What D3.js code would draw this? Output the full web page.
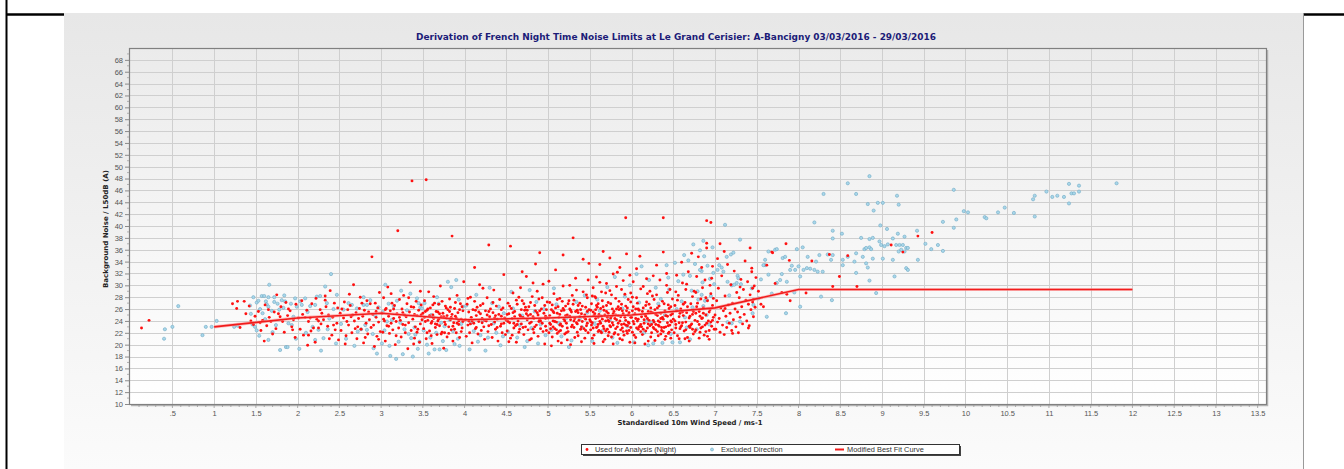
<!DOCTYPE html>
<html>
<head>
<meta charset="utf-8">
<script src="https://cdn.jsdelivr.net/npm/d3@7/dist/d3.min.js"></script>
<style>
  html, body { margin: 0; padding: 0; background: #ffffff; }
  svg { display: block; }
</style>
</head>
<body>
<svg id="chart" width="1344" height="469"></svg>
<script>
// ---- Data -------------------------------------------------------------
const chartTitle = "Derivation of French Night Time Noise Limits at Le Grand Cerisier: A-Bancigny 03/03/2016 - 29/03/2016";
const xAxisTitle = "Standardised 10m Wind Speed / ms-1";
const yAxisTitle = "Background Noise / L50dB (A)";
const legendLabels = ["Used for Analysis (Night)", "Excluded Direction", "Modified Best Fit Curve"];

const xTicks = [0.5,1,1.5,2,2.5,3,3.5,4,4.5,5,5.5,6,6.5,7,7.5,8,8.5,9,9.5,10,10.5,11,11.5,12,12.5,13,13.5];
const yTicks = [10,12,14,16,18,20,22,24,26,28,30,32,34,36,38,40,42,44,46,48,50,52,54,56,58,60,62,64,66,68];

// Modified best fit curve (wind speed, L50 noise)
const curveWind  = [1, 2, 3, 4, 5, 6, 7, 8, 12];
const curveNoise = [23.0, 24.5, 25.3, 24.2, 24.5, 25.0, 26.2, 29.3, 29.3];

// Night-time samples used for the analysis [wind speed, L50]
const usedPoints = [
[0.13,22.8],[0.22,24.1],
[1.22,26.9],[1.28,27.3],[1.36,27.3],[1.27,26.1],[1.31,22.9],[1.38,25.2],[1.44,24.0],[1.47,23.4],[1.49,24.8],[1.42,26.5],
[1.53,25.6],[1.56,22.4],[1.58,24.1],[1.61,26.7],[1.63,23.2],[1.66,24.6],[1.68,23.9],[1.70,21.8],[1.72,25.5],[1.74,22.7],[1.77,25.2],[1.79,24.7],[1.80,26.4],[1.82,23.9],[1.84,22.1],[1.86,27.1],[1.89,26.0],[1.91,25.7],[1.93,23.0],[1.95,24.2],[1.97,21.2],[1.98,26.8],[1.60,20.6],[1.75,28.4],[1.88,24.9],[1.55,23.7],[1.65,25.9],[1.94,22.5],
[2.01,24.5],[2.03,22.6],[2.05,27.4],[2.07,21.6],[2.09,24.6],[2.11,25.8],[2.13,23.9],[2.13,21.6],[2.15,24.5],[2.17,26.9],[2.19,22.8],[2.21,20.4],[2.23,24.3],[2.25,24.0],[2.25,22.8],[2.27,25.9],[2.29,25.3],[2.31,24.2],[2.33,28.2],[2.33,27.5],[2.34,26.4],[2.36,23.1],[2.38,21.0],[2.39,29.1],[2.41,21.6],[2.43,23.3],[2.45,22.5],[2.47,23.6],[2.48,26.2],[2.49,20.8],[2.06,25.1],[2.16,22.3],[2.22,27.8],[2.28,23.5],[2.37,25.0],[2.42,24.6],[2.44,27.0],[2.12,19.9],
[2.51,25.3],[2.52,22.4],[2.55,24.5],[2.56,27.2],[2.58,21.5],[2.60,25.9],[2.61,23.3],[2.63,26.6],[2.65,22.0],[2.67,30.1],[2.68,24.0],[2.70,25.4],[2.71,21.0],[2.72,23.0],[2.74,26.1],[2.75,28.0],[2.76,22.6],[2.78,24.8],[2.79,20.3],[2.80,25.8],[2.82,23.6],[2.83,27.4],[2.84,21.8],[2.86,24.2],[2.87,26.9],[2.88,22.9],[2.89,34.8],[2.90,25.1],[2.91,23.3],[2.92,19.7],[2.93,27.0],[2.94,24.6],[2.95,21.4],[2.96,26.2],[2.97,23.8],[2.98,28.8],[2.99,22.2],[2.53,26.0],[2.57,20.1],[2.62,28.5],[2.66,25.0],[2.69,22.7],[2.73,24.4],[2.77,27.0],[2.81,21.2],[2.85,25.5],[2.59,23.9],[2.64,24.7],[2.94,25.6],[2.97,20.9],
[3.01,25.3],[3.02,22.1],[3.03,27.9],[3.04,24.0],[3.05,20.6],[3.06,26.1],[3.07,23.2],[3.08,29.7],[3.09,24.8],[3.10,21.9],[3.11,25.7],[3.12,23.6],[3.13,27.0],[3.14,22.5],[3.15,24.4],[3.16,26.6],[3.17,20.0],[3.18,23.9],[3.19,25.2],[3.20,39.2],[3.21,22.8],[3.22,27.6],[3.23,24.1],[3.24,21.3],[3.25,26.0],[3.26,23.4],[3.27,28.3],[3.28,25.0],[3.29,22.0],[3.30,24.7],[3.31,26.9],[3.32,19.3],[3.33,23.7],[3.34,25.5],[3.35,30.5],[3.36,22.4],[3.37,47.6],[3.38,24.3],[3.39,26.3],[3.40,21.1],[3.41,23.0],[3.42,27.3],[3.43,24.9],[3.44,22.6],[3.45,25.8],[3.46,20.4],[3.47,23.5],[3.48,26.7],[3.49,24.2],[3.05,25.9],[3.12,28.6],[3.18,21.5],[3.26,25.4],[3.33,27.9],[3.40,25.1],[3.47,29.0],[3.09,23.1],[3.15,26.0],[3.22,24.6],[3.29,23.3],[3.36,26.4],[3.43,22.1],[3.48,25.0],[3.03,24.3],[3.39,20.1],
[3.50,25.3],[3.51,22.7],[3.52,27.4],[3.53,23.9],[3.54,47.8],[3.54,21.0],[3.55,25.8],[3.56,24.1],[3.57,28.9],[3.58,22.3],[3.59,26.2],[3.60,23.6],[3.61,20.2],[3.62,25.0],[3.63,24.4],[3.64,27.0],[3.65,22.9],[3.66,25.6],[3.67,21.7],[3.68,24.0],[3.69,26.8],[3.70,23.2],[3.71,29.9],[3.72,24.7],[3.73,22.1],[3.74,25.3],[3.75,19.4],[3.76,23.8],[3.77,26.5],[3.78,24.5],[3.79,21.3],[3.80,25.9],[3.81,23.0],[3.82,27.7],[3.83,24.2],[3.84,22.5],[3.85,38.3],[3.85,25.1],[3.86,20.6],[3.87,23.7],[3.88,26.1],[3.89,24.8],[3.90,22.0],[3.91,28.3],[3.92,25.4],[3.93,23.4],[3.94,21.2],[3.95,26.9],[3.96,24.3],[3.97,22.8],[3.98,25.7],[3.99,30.6],[3.52,24.6],[3.56,26.0],[3.60,21.5],[3.63,28.1],[3.67,23.4],[3.70,25.2],[3.73,27.3],[3.76,22.0],[3.79,24.9],[3.82,25.6],[3.86,23.1],[3.89,27.1],[3.93,24.0],[3.97,26.4],[3.58,24.9],[3.65,23.5],[3.72,21.8],[3.78,26.2],[3.84,24.6],[3.91,23.6],[3.96,22.2],[3.55,22.0],[3.69,24.3],[3.81,21.9],[3.88,22.6],[3.94,25.9],[3.62,26.7],[3.75,24.7],
[4.01,24.2],[4.02,21.4],[4.03,26.8],[4.04,23.3],[4.05,25.5],[4.06,22.0],[4.07,28.0],[4.08,24.6],[4.09,20.3],[4.10,25.9],[4.11,23.6],[4.12,27.3],[4.13,22.7],[4.14,24.9],[4.15,26.3],[4.16,21.8],[4.17,23.9],[4.18,30.1],[4.19,25.2],[4.20,22.4],[4.21,24.4],[4.22,26.9],[4.23,23.0],[4.24,20.9],[4.25,25.7],[4.26,24.0],[4.27,27.9],[4.28,22.2],[4.29,36.8],[4.30,24.7],[4.31,26.0],[4.32,23.4],[4.33,21.2],[4.34,25.4],[4.35,29.2],[4.36,23.8],[4.37,22.6],[4.38,26.5],[4.39,24.3],[4.40,20.6],[4.41,25.1],[4.42,27.6],[4.43,23.1],[4.44,24.8],[4.45,22.0],[4.46,26.2],[4.47,31.8],[4.48,24.5],[4.49,21.7],[4.04,27.8],[4.09,24.0],[4.14,22.9],[4.19,26.6],[4.24,24.1],[4.29,23.2],[4.34,27.1],[4.39,22.9],[4.44,25.9],[4.07,23.5],[4.17,25.5],[4.27,25.0],[4.37,24.9],[4.47,23.6],[4.12,33.0],[4.22,29.5],
[4.50,24.1],[4.51,22.3],[4.52,27.0],[4.53,25.2],[4.54,23.7],[4.55,36.6],[4.55,21.1],[4.56,26.1],[4.57,24.4],[4.58,28.7],[4.59,22.8],[4.60,25.6],[4.61,23.2],[4.62,20.4],[4.63,26.8],[4.64,24.0],[4.65,22.1],[4.66,25.0],[4.67,29.6],[4.68,23.5],[4.69,27.4],[4.70,24.6],[4.71,21.7],[4.72,25.8],[4.73,23.0],[4.74,31.5],[4.75,24.2],[4.76,22.5],[4.77,26.4],[4.78,20.8],[4.79,25.1],[4.80,23.8],[4.81,28.1],[4.82,24.7],[4.83,22.0],[4.84,26.6],[4.85,33.6],[4.86,23.3],[4.87,25.4],[4.88,21.4],[4.89,27.7],[4.90,35.5],[4.90,24.3],[4.91,22.7],[4.92,26.0],[4.93,23.6],[4.94,30.2],[4.95,25.3],[4.96,20.1],[4.97,24.8],[4.98,22.4],[4.99,27.2],[4.52,23.9],[4.57,21.6],[4.62,27.5],[4.66,22.6],[4.71,26.9],[4.76,24.9],[4.80,21.0],[4.85,25.7],[4.89,23.9],[4.94,22.2],[4.98,25.9],[4.54,26.5],[4.60,24.7],[4.65,28.0],[4.70,22.9],[4.74,25.2],[4.79,27.1],[4.84,23.0],[4.88,25.0],[4.93,27.9],[4.97,23.1],[4.53,20.5],[4.63,23.4],[4.73,26.3],[4.83,24.4],[4.91,24.0],[4.58,25.4],[4.68,25.9],[4.78,23.6],[4.87,29.0],[4.96,26.6],[4.69,32.3],[4.82,30.4],
[5.00,24.5],[5.01,22.0],[5.02,27.1],[5.03,23.4],[5.04,25.9],[5.05,21.3],[5.06,24.0],[5.07,28.6],[5.08,22.7],[5.09,26.2],[5.10,23.8],[5.11,25.3],[5.12,20.6],[5.13,24.6],[5.14,27.8],[5.15,22.4],[5.16,25.7],[5.17,23.1],[5.18,29.9],[5.19,24.3],[5.20,21.8],[5.21,26.5],[5.22,23.6],[5.23,25.0],[5.24,22.2],[5.25,27.4],[5.26,24.8],[5.27,20.0],[5.28,25.5],[5.29,23.3],[5.30,38.0],[5.30,26.8],[5.31,22.9],[5.32,24.4],[5.33,31.2],[5.34,23.7],[5.35,25.8],[5.36,21.5],[5.37,24.1],[5.38,27.0],[5.39,22.6],[5.40,25.2],[5.41,23.9],[5.42,28.9],[5.43,24.6],[5.44,21.1],[5.45,26.3],[5.46,23.2],[5.47,25.6],[5.48,22.0],[5.49,33.7],[5.02,24.9],[5.05,26.7],[5.08,23.9],[5.11,21.9],[5.14,25.1],[5.17,27.3],[5.20,24.0],[5.23,22.8],[5.26,26.0],[5.29,28.3],[5.32,21.2],[5.35,23.5],[5.38,24.7],[5.41,26.5],[5.44,25.0],[5.47,23.6],[5.03,22.7],[5.07,25.4],[5.11,27.6],[5.15,23.5],[5.19,25.8],[5.23,20.8],[5.27,24.2],[5.31,27.5],[5.35,22.1],[5.39,25.9],[5.43,22.7],[5.47,27.9],[5.01,30.7],[5.09,32.6],[5.18,35.1],[5.26,30.0],[5.34,29.2],[5.42,34.4],[5.48,30.9],[5.06,23.0],[5.13,22.2],[5.21,24.9],[5.28,23.0],[5.36,25.4],[5.45,24.3],[5.04,19.8],[5.16,20.3],[5.40,20.5],[5.12,26.4],[5.24,26.9],[5.33,25.6],[5.46,28.4],
[5.50,24.2],[5.51,22.5],[5.52,26.9],[5.53,23.7],[5.54,25.5],[5.55,21.6],[5.56,28.1],[5.57,24.4],[5.58,22.9],[5.59,26.3],[5.60,23.4],[5.61,25.1],[5.62,30.5],[5.63,22.2],[5.64,24.8],[5.65,27.4],[5.66,23.1],[5.67,25.8],[5.68,20.9],[5.69,24.0],[5.70,26.6],[5.71,22.6],[5.72,25.3],[5.73,23.9],[5.74,29.1],[5.75,24.5],[5.76,21.3],[5.77,26.0],[5.78,23.3],[5.79,25.6],[5.80,22.0],[5.81,27.8],[5.82,24.2],[5.83,32.2],[5.84,23.6],[5.85,25.9],[5.86,21.0],[5.87,24.7],[5.88,26.8],[5.89,22.8],[5.90,25.2],[5.91,23.5],[5.92,28.5],[5.93,41.4],[5.93,24.1],[5.94,22.3],[5.95,26.2],[5.96,23.8],[5.97,25.4],[5.98,20.4],[5.99,27.2],
[5.51,25.8],[5.53,21.1],[5.55,24.9],[5.57,27.9],[5.59,23.0],[5.61,22.4],[5.63,26.1],[5.65,24.3],[5.67,22.7],[5.69,28.7],[5.71,24.6],[5.73,22.1],[5.75,26.9],[5.77,23.7],[5.79,21.8],[5.81,25.0],[5.83,23.0],[5.85,27.3],[5.87,22.5],[5.89,25.7],[5.91,21.6],[5.93,26.5],[5.95,23.2],[5.97,22.4],[5.99,24.6],
[5.52,23.3],[5.56,25.2],[5.60,26.9],[5.64,22.0],[5.68,25.0],[5.72,27.1],[5.76,24.8],[5.80,24.4],[5.84,26.4],[5.88,23.4],[5.92,24.6],[5.96,27.6],[5.54,29.6],[5.58,31.4],[5.62,33.5],[5.66,35.7],[5.70,30.3],[5.74,34.6],[5.78,31.9],[5.82,29.8],[5.86,33.0],[5.90,30.8],[5.94,35.3],[5.98,31.7],[5.55,20.2],[5.66,20.5],[5.78,20.1],[5.89,20.8],[5.62,23.9],[5.74,23.2],[5.86,24.0],[5.97,23.6],[5.58,26.6],[5.70,25.6],[5.82,26.0],[5.94,25.7],[5.53,28.2],[5.64,28.9],[5.76,28.4],[5.88,29.3],[5.99,28.7],[5.60,22.2],[5.72,21.5],[5.84,21.7],[5.95,21.9],
[6.00,24.6],[6.01,22.1],[6.02,26.4],[6.03,23.5],[6.04,25.2],[6.05,21.2],[6.06,27.9],[6.07,24.0],[6.08,22.6],[6.09,25.8],[6.10,23.1],[6.11,29.4],[6.12,24.7],[6.13,21.7],[6.14,26.2],[6.15,23.6],[6.16,25.1],[6.17,22.3],[6.18,31.1],[6.19,24.4],[6.20,20.6],[6.21,26.8],[6.22,23.2],[6.23,25.5],[6.24,22.0],[6.25,28.2],[6.26,24.1],[6.27,22.7],[6.28,25.9],[6.29,23.4],[6.30,33.4],[6.31,24.9],[6.32,21.5],[6.33,26.5],[6.34,23.8],[6.35,25.3],[6.36,22.4],[6.37,27.3],[6.38,41.4],[6.38,24.3],[6.39,22.9],[6.40,25.7],[6.41,23.0],[6.42,30.0],[6.43,24.8],[6.44,21.9],[6.45,26.1],[6.46,23.3],[6.47,25.0],[6.48,22.5],[6.49,27.7],
[6.01,25.7],[6.03,21.6],[6.05,24.4],[6.07,27.0],[6.09,23.0],[6.11,22.2],[6.13,25.6],[6.15,24.2],[6.17,26.6],[6.19,22.8],[6.21,24.1],[6.23,21.3],[6.25,25.4],[6.27,27.6],[6.29,22.5],[6.31,26.2],[6.33,23.1],[6.35,21.8],[6.37,24.6],[6.39,26.9],[6.41,21.4],[6.43,23.7],[6.45,22.1],[6.47,24.0],[6.49,25.2],
[6.02,30.6],[6.06,32.8],[6.10,34.9],[6.14,29.8],[6.18,27.2],[6.22,29.0],[6.26,31.6],[6.30,28.4],[6.34,30.9],[6.38,35.6],[6.42,32.0],[6.46,29.3],[6.04,20.3],[6.16,20.1],[6.28,20.7],[6.40,20.9],[6.08,26.0],[6.20,25.6],[6.32,24.0],[6.44,26.7],[6.12,23.0],[6.24,23.4],[6.36,22.9],[6.48,23.8],[6.06,22.8],[6.19,28.6],[6.31,22.2],[6.43,28.8],[6.01,28.0],[6.27,23.8],[6.47,21.1],
[6.50,24.3],[6.51,22.0],[6.52,26.6],[6.53,23.4],[6.54,25.7],[6.55,21.5],[6.56,28.3],[6.57,24.7],[6.58,22.7],[6.59,26.0],[6.60,23.2],[6.61,30.4],[6.62,24.9],[6.63,22.3],[6.64,27.1],[6.65,23.8],[6.66,25.4],[6.67,21.2],[6.68,32.3],[6.69,24.5],[6.70,22.9],[6.71,26.9],[6.72,23.5],[6.73,25.1],[6.74,21.8],[6.75,29.0],[6.76,24.1],[6.77,22.5],[6.78,26.4],[6.79,23.9],[6.80,34.8],[6.81,25.6],[6.82,22.1],[6.83,27.7],[6.84,24.4],[6.85,23.0],[6.86,26.2],[6.87,21.6],[6.88,30.9],[6.89,25.0],[6.90,40.9],[6.90,23.6],[6.91,27.4],[6.92,24.0],[6.93,22.4],[6.94,25.9],[6.95,40.6],[6.95,28.6],[6.96,23.1],[6.97,26.6],[6.98,24.6],[6.99,22.6],
[6.52,24.0],[6.55,27.5],[6.58,25.3],[6.61,23.7],[6.64,21.0],[6.67,26.4],[6.70,24.8],[6.73,28.1],[6.76,22.2],[6.79,27.0],[6.82,24.8],[6.85,29.6],[6.88,23.3],[6.91,21.4],[6.94,30.0],[6.97,33.2],
[6.54,31.7],[6.60,33.9],[6.66,30.2],[6.72,35.4],[6.78,31.5],[6.84,33.0],[6.90,36.3],[6.96,31.2],[6.57,21.0],[6.69,20.6],[6.81,21.1],[6.93,20.9],[6.62,26.8],[6.74,25.6],[6.86,25.3],[6.98,27.8],[6.53,28.9],[6.65,29.3],[6.77,28.8],[6.89,27.9],[6.59,23.0],[6.71,23.3],[6.83,22.8],[6.95,23.8],[6.90,37.1],
[7.00,25.0],[7.01,22.6],[7.02,27.4],[7.03,23.8],[7.04,29.5],[7.05,24.4],[7.06,22.1],[7.07,26.2],[7.08,31.6],[7.09,23.3],[7.10,25.7],[7.11,21.7],[7.12,28.2],[7.13,24.8],[7.14,22.9],[7.15,33.5],[7.16,26.7],[7.17,23.6],[7.18,25.3],[7.19,30.1],[7.20,22.4],[7.21,27.0],[7.22,24.2],[7.23,32.4],[7.24,26.0],[7.25,23.0],[7.26,28.8],[7.27,25.5],[7.28,22.0],[7.29,27.9],[7.30,24.6],[7.31,31.0],[7.32,26.4],[7.33,23.5],[7.34,29.3],[7.35,25.1],[7.36,34.1],[7.37,27.5],[7.38,24.0],[7.39,30.6],[7.40,26.8],[7.41,23.2],[7.42,28.4],[7.43,25.9],[7.44,32.9],[7.45,27.2],[7.46,24.7],[7.47,29.9],[7.48,26.3],[7.49,31.3],[7.03,34.5],[7.12,26.1],[7.21,21.9],[7.30,29.7],[7.40,22.8],
[7.06,37.0],[7.11,35.7],[7.42,36.3],[7.44,32.3],[7.45,29.5],[7.46,27.6],
[7.52,29.0],[7.55,26.8],[7.58,26.4],[7.62,33.4],[7.68,35.6],[7.69,35.5],[7.72,30.3],[7.80,28.8],[7.85,37.0],[7.86,28.5],[7.89,34.2],[7.90,27.4],
[8.09,28.7],[8.16,34.1],[8.37,35.2],[8.41,29.8],[8.49,31.5],[8.59,35.0],[8.70,29.8],[9.11,36.8],[9.25,35.6],[9.43,38.3],[9.60,38.9],
[5.02,23.6],[5.06,25.6],[5.10,22.5],[5.14,23.3],[5.18,26.1],[5.22,22.0],[5.27,25.8],[5.31,24.0],[5.36,26.6],[5.40,23.0],[5.45,22.4],[5.49,25.9],
[5.51,23.9],[5.54,22.8],[5.57,25.9],[5.60,24.6],[5.63,23.6],[5.66,26.4],[5.69,22.3],[5.72,24.1],[5.75,23.0],[5.78,25.2],[5.81,22.7],[5.84,24.9],[5.87,26.1],[5.90,22.2],[5.93,23.3],[5.96,25.0],[5.99,22.9],
[6.02,23.9],[6.05,26.0],[6.08,24.3],[6.11,23.4],[6.14,22.6],[6.17,24.8],[6.20,23.5],[6.23,26.2],[6.26,22.9],[6.29,25.1],[6.32,23.3],[6.35,24.4],[6.38,22.2],[6.41,24.9],[6.44,23.2],[6.47,26.4],
[6.53,22.8],[6.57,23.7],[6.61,25.5],[6.65,22.5],[6.69,23.1],[6.73,22.6],[6.77,25.3],[6.81,23.4],[6.85,24.5],[6.89,22.2],[6.93,25.5],[6.97,24.1],
[3.53,25.6],[3.61,23.9],[3.68,25.5],[3.77,23.4],[3.83,26.3],[3.90,24.5],[3.98,23.9],[4.05,24.0],[4.13,25.8],[4.21,23.7],[4.29,25.6],[4.36,24.5],[4.44,23.5],[4.51,25.1],[4.59,23.6],[4.67,24.8],[4.75,25.8],[4.82,22.6],[4.90,25.7],[4.97,24.4]
];

// Samples rejected because of wind direction [wind speed, L50]
const excludedPoints = [
[0.41,22.6],[0.40,21.0],[0.50,23.0],[0.57,26.5],[0.86,21.6],[0.90,23.0],[0.97,23.0],[1.03,24.0],[1.24,23.0],[1.28,23.2],
[1.47,28.0],[1.57,28.2],[1.60,28.2],[1.65,28.0],[1.72,28.0],[1.51,27.1],[1.53,27.4],[1.62,27.3],[1.63,26.8],[1.65,26.4],[1.72,27.2],[1.76,26.9],[1.81,27.5],[1.85,27.3],[1.44,25.2],[1.49,23.0],[1.51,22.4],[1.46,23.4],[1.65,20.8],[1.79,19.1],[1.86,19.6],[1.88,19.6],[1.66,30.1],[1.74,23.3],[1.89,23.6],[1.93,23.3],[1.95,24.7],[1.55,26.0],[1.58,25.3],[1.69,25.7],[1.78,25.9],[1.83,26.2],[1.92,26.9],[1.97,27.8],[1.54,21.5],[1.70,22.1],[1.98,21.0],[1.61,24.3],[1.43,26.6],[1.84,28.3],
[2.03,27.3],[2.05,26.7],[1.99,26.4],[2.15,26.5],[2.21,26.7],[2.23,28.1],[2.27,28.2],[2.33,29.8],[2.40,31.9],[2.31,21.1],[2.21,20.8],[2.25,22.5],[2.09,27.8],[2.12,25.5],[2.18,23.0],[2.35,27.0],[2.38,24.4],[2.43,26.0],[2.47,28.4],[2.02,19.3],[2.28,19.0],[2.46,20.2],[2.10,22.0],[2.36,22.6],
[2.55,25.9],[2.61,27.0],[2.65,26.7],[2.71,26.1],[2.79,28.0],[2.79,26.7],[2.83,26.7],[2.72,22.2],[2.76,22.6],[2.81,23.3],[2.83,22.5],[2.91,19.4],[2.95,18.5],[2.58,21.0],[2.68,19.8],[2.87,27.5],[2.93,24.9],[2.52,23.5],[2.90,21.8],[2.97,26.3],
[3.01,20.2],[3.05,30.1],[3.07,23.9],[3.13,24.2],[3.23,23.7],[3.11,18.1],[3.26,18.4],[3.38,18.0],[3.28,22.6],[3.33,21.8],[3.36,21.1],[3.40,22.9],[3.41,21.7],[3.46,20.5],[3.43,27.8],[3.45,27.0],[3.47,26.3],[3.49,26.1],[3.15,26.5],[3.19,27.4],[3.04,22.4],[3.10,19.8],[3.21,20.5],[3.31,25.8],[3.35,28.6],[3.09,26.9],[3.24,29.1],[3.18,17.6],[3.44,19.3],[3.02,25.5],
[3.51,22.4],[3.55,20.0],[3.59,21.2],[3.52,27.0],[3.64,19.2],[3.70,19.2],[3.78,19.1],[3.94,19.8],[3.60,25.0],[3.63,24.6],[3.72,23.7],[3.76,23.1],[3.82,24.2],[3.86,22.3],[3.90,30.9],[3.92,21.0],[3.80,30.6],[3.84,29.7],[3.67,28.0],[3.98,26.4],[3.57,18.5],[3.74,20.6],[3.88,20.1],[3.96,23.5],[3.66,22.0],[3.69,26.9],[3.93,27.6],
[4.06,19.2],[4.11,22.3],[4.16,20.5],[4.22,24.1],[4.28,21.2],[4.33,27.0],[4.38,22.0],[4.43,19.9],[4.47,25.3],[4.02,26.6],[4.14,28.4],[4.25,19.0],[4.35,23.6],[4.41,26.4],[4.19,21.6],[4.08,23.7],[4.30,29.6],[4.46,21.4],
[4.52,22.2],[4.58,26.1],[4.63,21.2],[4.69,24.9],[4.75,20.6],[4.80,22.8],[4.86,27.2],[4.91,23.4],[4.97,21.6],[4.56,28.9],[4.72,19.6],[4.84,25.6],[4.95,26.0],[4.66,23.3],[4.78,29.2],[4.88,20.2],
[5.04,22.5],[5.10,26.8],[5.16,21.4],[5.22,24.5],[5.28,20.7],[5.34,27.2],[5.41,22.9],[5.47,25.4],[5.53,20.6],[5.59,27.6],[5.65,22.3],[5.71,29.7],[5.77,21.2],[5.83,20.3],[5.89,26.1],[5.95,23.1],[5.07,29.5],[5.25,19.6],[5.44,28.3],[5.62,25.7],[5.80,31.4],[5.98,30.0],[5.13,23.6],[5.38,24.4],[5.56,23.5],[5.74,24.2],[5.92,28.1],
[6.03,20.4],[6.09,27.1],[6.15,22.0],[6.21,30.9],[6.26,20.2],[6.32,26.9],[6.37,20.3],[6.42,33.4],[6.47,21.8],[6.06,31.9],[6.18,24.0],[6.29,29.6],[6.40,25.0],[6.12,33.2],[6.24,23.7],[6.35,27.7],[6.45,29.3],[6.49,20.4],[6.20,19.9],[6.44,31.3],
[6.52,33.8],[6.56,30.7],[6.60,27.3],[6.63,35.1],[6.66,22.9],[6.70,31.6],[6.73,26.3],[6.76,33.6],[6.79,29.0],[6.82,35.9],[6.85,30.5],[6.88,27.4],[6.91,33.3],[6.94,31.1],[6.97,36.4],[6.58,20.4],[6.64,24.6],[6.68,34.2],[6.72,29.1],[6.78,22.6],[6.84,32.4],[6.90,25.0],[6.95,28.2],[6.54,26.0],[6.62,31.8],[6.74,36.9],[6.80,27.6],[6.87,34.9],[6.93,23.4],[6.99,30.2],[6.86,37.5],[6.70,20.9],
[6.82,32.6],[6.84,28.4],[6.86,26.5],[6.90,27.6],[6.98,32.1],[7.03,32.6],[7.05,33.4],[7.08,33.0],[7.10,32.3],[7.14,34.8],[7.19,35.2],[7.22,35.5],[7.15,30.6],[7.17,28.3],[7.20,30.0],[7.23,30.1],[7.26,30.4],[7.27,31.6],[7.28,31.2],[7.31,30.2],[7.15,23.8],[7.20,23.6],[7.30,37.7],[7.12,40.2],[7.44,29.5],[7.46,26.7],[7.45,25.3],[7.30,23.9],
[7.62,24.7],[7.60,34.3],[7.64,35.7],[7.60,33.4],[7.72,36.0],[7.74,36.1],[7.74,30.4],[7.78,30.9],[7.80,31.9],[7.86,30.6],[7.85,25.3],[7.64,31.8],[7.58,33.4],[7.81,34.6],[7.84,34.8],[7.55,31.0],[7.52,27.8],[7.68,28.6],
[7.90,32.6],[7.92,33.3],[7.96,32.6],[8.00,33.2],[8.06,32.6],[8.10,32.9],[8.14,32.8],[7.98,36.1],[8.05,36.4],[8.02,31.5],[7.95,28.8],[8.02,26.4],[8.11,34.8],[8.21,34.0],[8.25,35.1],[8.35,35.2],[8.39,34.3],[8.41,35.1],[8.19,32.6],[8.23,32.3],[8.29,32.3],[8.27,28.1],[8.40,27.5],[8.41,39.2],[8.52,38.7],[8.41,37.9],[8.53,34.3],[8.53,33.4],[8.59,34.8],[8.69,35.4],[8.67,34.0],[8.69,32.1],[8.19,40.6],[8.30,45.4],[8.59,47.2],[8.69,45.4],
[8.85,48.4],[9.18,45.1],[8.83,43.7],[8.95,43.9],[9.01,43.9],[9.20,43.6],[8.90,42.6],[8.98,40.1],[9.06,39.5],[9.19,38.7],[9.27,38.2],[9.42,39.2],
[8.75,38.0],[8.85,37.8],[8.89,38.0],[8.79,36.1],[8.81,36.3],[8.85,36.4],[8.87,36.1],[8.97,37.4],[8.99,36.8],[9.03,36.6],[9.07,36.9],[9.13,37.9],[9.17,36.8],[9.21,36.8],[9.25,36.8],[9.23,36.0],[9.29,36.3],[9.31,36.3],[9.20,35.7],[9.27,35.7],[8.77,34.8],[8.89,34.5],[9.01,34.5],[9.13,34.3],[8.81,33.7],[8.83,33.0],[9.43,34.3],[9.52,37.0],[9.59,36.1],[9.67,36.8],[9.73,35.8],[8.85,30.8],[8.93,28.7],[9.15,31.5],[9.29,32.9],[9.31,32.6],
[9.86,46.1],[9.86,39.7],[9.89,41.1],[9.73,40.7],[9.98,42.5],[10.03,42.3],[10.23,41.5],[10.25,41.3],[10.39,42.3],[10.47,43.1],[10.58,42.2],[10.81,44.5],[10.83,45.1],[10.83,41.6],[10.97,45.8],[11.04,44.9],[11.10,45.1],[11.18,44.9],[11.27,45.5],[11.30,45.5],[11.36,45.8],[11.24,43.8],[11.24,47.1],[11.36,46.8],[11.81,47.2]
];

// ---- Layout -----------------------------------------------------------
const W = 1344, H = 469;
const panel = { x: 64, y: 13, w: 1239, h: 456 };
const plot = { left: 129, right: 1266, top: 48, bottom: 404 };

const svg = d3.select("#chart");
const defs = svg.append("defs");

const panelGrad = defs.append("linearGradient").attr("id", "panelGrad")
  .attr("x1", 0).attr("y1", 0).attr("x2", 0).attr("y2", 1);
panelGrad.append("stop").attr("offset", "0%").attr("stop-color", "#e7e7e7");
panelGrad.append("stop").attr("offset", "100%").attr("stop-color", "#fbfbfb");

const plotGrad = defs.append("linearGradient").attr("id", "plotGrad")
  .attr("x1", 0).attr("y1", 0).attr("x2", 0).attr("y2", 1);
plotGrad.append("stop").attr("offset", "0%").attr("stop-color", "#ebebeb");
plotGrad.append("stop").attr("offset", "100%").attr("stop-color", "#ffffff");

// page frame lines
svg.append("rect").attr("x", 0).attr("y", 0).attr("width", W).attr("height", H).attr("fill", "#ffffff");
svg.append("rect").attr("x", panel.x).attr("y", panel.y).attr("width", panel.w).attr("height", panel.h)
  .attr("fill", "url(#panelGrad)");
svg.append("line").attr("x1", panel.x + panel.w + 0.5).attr("x2", panel.x + panel.w + 0.5)
  .attr("y1", panel.y).attr("y2", H).attr("stroke", "#9a9a9a").attr("stroke-width", 1);
svg.append("line").attr("x1", 6.5).attr("x2", 6.5).attr("y1", 0).attr("y2", H)
  .attr("stroke", "#000").attr("stroke-width", 2);
svg.append("line").attr("x1", 6).attr("x2", panel.x).attr("y1", 14.5).attr("y2", 14.5)
  .attr("stroke", "#000").attr("stroke-width", 2.5);
svg.append("line").attr("x1", panel.x + panel.w + 1).attr("x2", W).attr("y1", 14.5).attr("y2", 14.5)
  .attr("stroke", "#000").attr("stroke-width", 2.5);

// ---- Scales -----------------------------------------------------------
const x = d3.scaleLinear().domain([-0.02, 13.6]).range([plot.left, plot.right]);
const y = d3.scaleLinear().domain([10, 70]).range([plot.bottom, plot.top]);

// plot background
svg.append("rect").attr("x", plot.left).attr("y", plot.top)
  .attr("width", plot.right - plot.left).attr("height", plot.bottom - plot.top)
  .attr("fill", "url(#plotGrad)");

// grid
const grid = svg.append("g").attr("stroke", "#cfcfcf").attr("stroke-width", 1);
grid.selectAll(".hg").data(yTicks.filter(v => v > 10)).join("line")
  .attr("x1", plot.left).attr("x2", plot.right)
  .attr("y1", d => Math.round(y(d)) + 0.5).attr("y2", d => Math.round(y(d)) + 0.5);
grid.selectAll(".vg").data(xTicks).join("line")
  .attr("y1", plot.top).attr("y2", plot.bottom)
  .attr("x1", d => Math.round(x(d)) + 0.5).attr("x2", d => Math.round(x(d)) + 0.5);

// plot border with a soft drop shadow on the right and bottom
svg.append("path")
  .attr("d", `M${plot.right + 1.5},${plot.top + 2} V${plot.bottom + 1.5} H${plot.left + 2}`)
  .attr("fill", "none").attr("stroke", "#b5b5b5").attr("stroke-width", 1.5);
svg.append("rect").attr("x", plot.left + 0.5).attr("y", plot.top + 0.5)
  .attr("width", plot.right - plot.left).attr("height", plot.bottom - plot.top)
  .attr("fill", "none").attr("stroke", "#808080").attr("stroke-width", 1.2);

// ---- Axes -------------------------------------------------------------
const fmtX = d => d === 0.5 ? ".5" : String(d);
const xAxis = d3.axisBottom(x).tickValues(xTicks).tickFormat(fmtX).tickSize(0).tickPadding(7);
const gx = svg.append("g").attr("transform", `translate(0,${plot.bottom})`).call(xAxis);
gx.select(".domain").remove();
gx.selectAll("text").attr("font-family", "'Liberation Sans', Arial, sans-serif")
  .attr("font-size", 7.5).attr("fill", "#555");

// minor ticks along the x axis
const xMinor = d3.range(1, 136).map(i => i / 10);
svg.append("g").attr("stroke", "#9a9a9a").attr("stroke-width", 0.8)
  .selectAll("line").data(xMinor).join("line")
  .attr("x1", d => x(d)).attr("x2", d => x(d))
  .attr("y1", plot.bottom + 1).attr("y2", d => plot.bottom + (Math.abs(d * 2 - Math.round(d * 2)) < 1e-6 ? 4 : 3));

const yAxis = d3.axisLeft(y).tickValues(yTicks).tickSize(4).tickPadding(2);
const gy = svg.append("g").attr("transform", `translate(${plot.left},0)`).call(yAxis);
gy.select(".domain").remove();
gy.selectAll("line").attr("stroke", "#8a8a8a");
gy.selectAll("text").attr("font-family", "'Liberation Sans', Arial, sans-serif")
  .attr("font-size", 7.5).attr("fill", "#555");

const yMinor = d3.range(11, 70, 2);
svg.append("g").attr("stroke", "#a0a0a0").attr("stroke-width", 0.8)
  .selectAll("line").data(yMinor).join("line")
  .attr("x1", plot.left - 2).attr("x2", plot.left)
  .attr("y1", d => y(d)).attr("y2", d => y(d));

// ---- Titles -----------------------------------------------------------
svg.append("text").attr("x", 676).attr("y", 40).attr("text-anchor", "middle")
  .attr("font-family", "'DejaVu Sans', Verdana, sans-serif").attr("font-weight", "bold")
  .attr("font-size", 8).attr("fill", "#1c1c78")
  .attr("textLength", 520).attr("lengthAdjust", "spacingAndGlyphs")
  .text(chartTitle);

svg.append("text").attr("x", 690).attr("y", 425).attr("text-anchor", "middle")
  .attr("font-family", "'DejaVu Sans', Verdana, sans-serif").attr("font-weight", "bold")
  .attr("font-size", 6.8).attr("fill", "#222")
  .attr("textLength", 145).attr("lengthAdjust", "spacingAndGlyphs")
  .text(xAxisTitle);

svg.append("text").attr("transform", `translate(108,${(plot.top + plot.bottom) / 2 + 3}) rotate(-90)`)
  .attr("text-anchor", "middle")
  .attr("font-family", "'DejaVu Sans', Verdana, sans-serif").attr("font-weight", "bold")
  .attr("font-size", 6.8).attr("fill", "#222")
  .attr("textLength", 118).attr("lengthAdjust", "spacingAndGlyphs")
  .text(yAxisTitle);

// ---- Marks ------------------------------------------------------------
const marks = svg.append("g");
marks.append("g").selectAll("circle").data(excludedPoints).join("circle")
  .attr("cx", d => x(d[0])).attr("cy", d => y(d[1])).attr("r", 1.6)
  .attr("fill", "#a9d7ea").attr("stroke", "#6fa9c4").attr("stroke-width", 0.6);

marks.append("g").selectAll("circle").data(usedPoints).join("circle")
  .attr("cx", d => x(d[0])).attr("cy", d => y(d[1])).attr("r", 1.45)
  .attr("fill", "#ff1010");

const curve = curveWind.map((w, i) => [w, curveNoise[i]]);
marks.append("path").datum(curve)
  .attr("fill", "none").attr("stroke", "#ff9a9a").attr("stroke-width", 3.2).attr("opacity", 0.6)
  .attr("d", d3.line().x(d => x(d[0])).y(d => y(d[1])));
marks.append("path").datum(curve)
  .attr("fill", "none").attr("stroke", "#f01c1c").attr("stroke-width", 1.6)
  .attr("d", d3.line().x(d => x(d[0])).y(d => y(d[1])));

// ---- Legend -----------------------------------------------------------
const lg = { x: 581, y: 444, w: 378, h: 10 };
svg.append("rect").attr("x", lg.x + 2).attr("y", lg.y + 2).attr("width", lg.w).attr("height", lg.h)
  .attr("fill", "#444");
svg.append("rect").attr("x", lg.x + 0.5).attr("y", lg.y + 0.5).attr("width", lg.w).attr("height", lg.h)
  .attr("fill", "#ffffff").attr("stroke", "#333").attr("stroke-width", 1);
const lgMid = lg.y + lg.h / 2 + 0.5;
svg.append("circle").attr("cx", 587).attr("cy", lgMid).attr("r", 1.4).attr("fill", "#ff1010");
svg.append("circle").attr("cx", 712).attr("cy", lgMid).attr("r", 1.5)
  .attr("fill", "#a9d7ea").attr("stroke", "#6fa9c4").attr("stroke-width", 0.6);
svg.append("line").attr("x1", 835).attr("x2", 844).attr("y1", lgMid).attr("y2", lgMid)
  .attr("stroke", "#f01c1c").attr("stroke-width", 2);
const legendX = [595, 721, 847];
svg.append("g").selectAll("text").data(legendLabels).join("text")
  .attr("x", (d, i) => legendX[i]).attr("y", lgMid + 2.6)
  .attr("font-family", "'Liberation Sans', Arial, sans-serif").attr("font-size", 7.4).attr("fill", "#333")
  .text(d => d);
</script>
</body>
</html>
